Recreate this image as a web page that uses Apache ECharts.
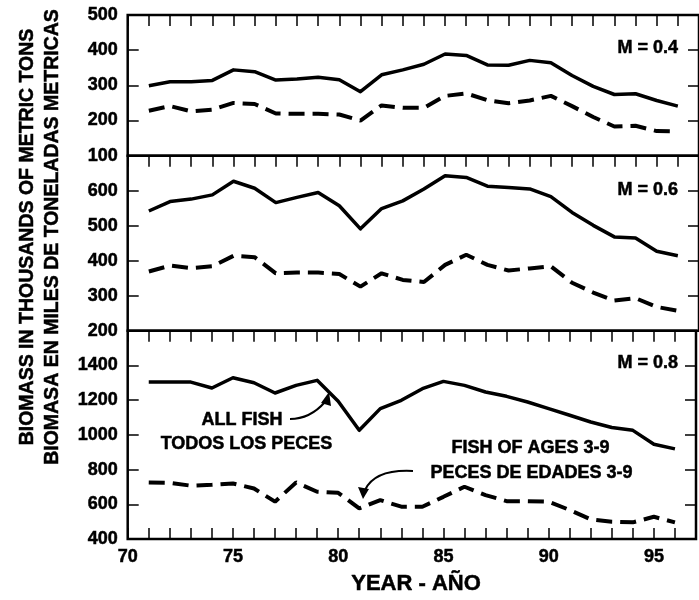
<!DOCTYPE html>
<html>
<head>
<meta charset="utf-8">
<script src="https://cdn.jsdelivr.net/npm/echarts@6/dist/echarts.min.js"></script>
<style>
html,body{margin:0;padding:0;background:#fff;}
#chart{width:699px;height:600px;}
</style>
</head>
<body>
<div id="chart"></div>
<script>
// ---- data ----
var years = [71,72,73,74,75,76,77,78,79,80,81,82,83,84,85,86,87,88,89,90,91,92,93,94,95,96];
// M = 0.4
var allFish04  = [299,310,310,314,344,339,315,318,323,316,282,330,344,360,389,385,358,357,371,364,328,297,274,276,257,241];
var ages04     = [228,241,226,231,250,247,220,219,219,217,200,243,236,236,270,277,258,249,257,270,241,210,183,185,170,169];
// M = 0.6
var allFish06  = [542,569,576,588,627,607,566,581,595,557,491,549,571,605,643,638,613,609,605,583,538,501,468,465,427,414];
var ages06     = [369,386,379,384,414,410,364,366,366,362,326,364,345,339,388,417,388,372,378,384,337,309,286,293,268,257];
// M = 0.8
var allFish08  = [1304,1304,1304,1270,1329,1300,1241,1285,1314,1194,1026,1151,1199,1266,1308,1285,1247,1222,1189,1151,1113,1074,1042,1026,946,919];
var ages08     = [726,724,707,712,720,691,615,726,672,666,576,624,586,586,643,701,653,618,618,615,567,513,500,496,528,496];
// axis ranges
var yMins = [100,200,400];
var yMaxs = [500,700,1600];
var yIntervals = [100,100,200];
var mLabels = ['M = 0.4','M = 0.6','M = 0.8'];

function pairs(vals){ return years.map(function(y,i){ return [y, vals[i]]; }); }

var FONT = "'Liberation Sans', Arial, Helvetica, sans-serif";
var chart = echarts.init(document.getElementById('chart'));

var gridTops = [15, 155.7, 330.7];
var gridHeights = [140.7, 175, 208.3];
var grids = [], xAxes = [], yAxes = [], series = [];
var lineSets = [[allFish04, ages04],[allFish06, ages06],[allFish08, ages08]];
var labelCommon = {color:'#000', fontFamily:FONT, fontWeight:'bold', fontSize:18, textBorderColor:'#000', textBorderWidth:0.5};

for (var i=0;i<3;i++){
  grids.push({left:127.7, top:gridTops[i], width:576.5, height:gridHeights[i], show:true, borderColor:'#000', borderWidth:2.5, backgroundColor:'transparent'});
  xAxes.push({gridIndex:i, type:'value', min:70, max:97, interval:1, position:'bottom',
    axisLine:{show:false}, splitLine:{show:false},
    axisTick:{show: i===2, inside:true, length:11, lineStyle:{color:'#000', width:1.5}},
    axisLabel:Object.assign({show: i===2, margin:9,
      formatter:function(v){ return (v%5===0 && v<97) ? String(v) : ''; }}, labelCommon)
  });
  xAxes.push({gridIndex:i, type:'value', min:70, max:97, interval:1, position:'top',
    axisLine:{show:false}, splitLine:{show:false},
    axisTick:{show:true, inside:true, length:11, lineStyle:{color:'#000', width:1.5}},
    axisLabel:{show:false}
  });
  yAxes.push({gridIndex:i, type:'value', min:yMins[i], max:yMaxs[i], interval:yIntervals[i], position:'left',
    axisLine:{show:false}, splitLine:{show:false},
    axisTick:{show:true, inside:true, length:11, lineStyle:{color:'#000', width:1.5}},
    axisLabel:Object.assign({show:true, margin:10, showMaxLabel: i===0, showMinLabel:true,
      formatter:function(v){ return String(v); }}, labelCommon)
  });
  yAxes.push({gridIndex:i, type:'value', min:yMins[i], max:yMaxs[i], interval:yIntervals[i], position:'right',
    axisLine:{show:false}, splitLine:{show:false},
    axisTick:{show:true, inside:true, length:11, lineStyle:{color:'#000', width:1.5}},
    axisLabel:{show:false}
  });
  series.push({type:'line', xAxisIndex:2*i, yAxisIndex:2*i, data:pairs(lineSets[i][0]), symbol:'none',
    lineStyle:{color:'#000', width:3.5, join:'round'}, animation:false});
  series.push({type:'line', xAxisIndex:2*i, yAxisIndex:2*i, data:pairs(lineSets[i][1]), symbol:'none',
    lineStyle:{color:'#000', width:4, type:[16,8], cap:'butt'}, animation:false});
}

var tStyle = function(txt, x, y, align, size){
  return {type:'text', x:x, y:y, style:{text:txt, fill:'#000', stroke:'#000', lineWidth:0.5,
    font:'bold '+(size||18)+'px '+FONT, textAlign:align||'center', textVerticalAlign:'middle'}};
};

var graphics = [
  tStyle(mLabels[0], 678, 48.5, 'right'),
  tStyle(mLabels[1], 678, 190, 'right'),
  tStyle(mLabels[2], 678, 363.5, 'right'),
  tStyle('ALL FISH', 242, 420),
  tStyle('TODOS LOS PECES', 246.5, 444),
  tStyle('FISH OF AGES 3-9', 530.5, 448),
  tStyle('PECES DE EDADES 3-9', 531.5, 473),
  tStyle('YEAR - AÑO', 416, 584, 'center', 22),
  {type:'text', x:40.5, y:237, rotation:Math.PI/2,
    style:{text:'BIOMASS IN THOUSANDS OF METRIC TONS\nBIOMASA EN MILES DE TONELADAS METRICAS', fill:'#000', stroke:'#000', lineWidth:0.5,
      font:'bold 19.5px '+FONT, textAlign:'center', textVerticalAlign:'middle', lineHeight:25}},
  {type:'bezierCurve', shape:{x1:290, y1:419, x2:325, y2:402, cpx1:310, cpy1:419},
    style:{stroke:'#000', lineWidth:2, fill:null}},
  {type:'polygon', shape:{points:[[329,392],[321,403],[331,406]]}, style:{fill:'#000'}},
  {type:'bezierCurve', shape:{x1:413, y1:471, x2:365, y2:490, cpx1:375, cpy1:469},
    style:{stroke:'#000', lineWidth:2, fill:null}},
  {type:'polygon', shape:{points:[[363,499],[358,487],[369,489]]}, style:{fill:'#000'}}
];

chart.setOption({
  animation:false,
  backgroundColor:'#fff',
  grid:grids, xAxis:xAxes, yAxis:yAxes, series:series, graphic:graphics
});
</script>
</body>
</html>
